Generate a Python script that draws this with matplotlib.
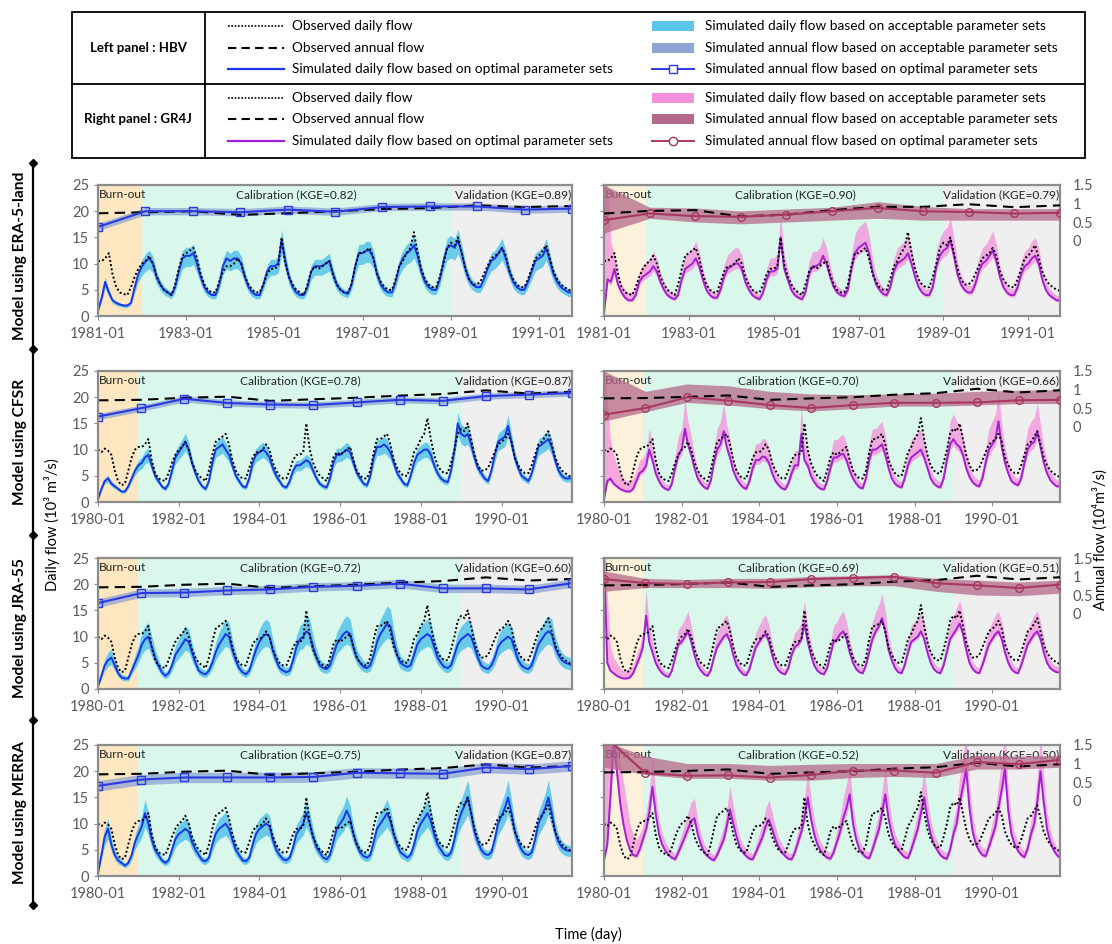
import numpy as np
import pandas as pd
import matplotlib
matplotlib.use('Agg')
import matplotlib.pyplot as plt
import matplotlib.dates as mdates
from matplotlib.patches import Rectangle

plt.rcParams['font.family'] = ['Lato', 'DejaVu Sans']

# ---------------- data (monthly readings) ----------------
# observed daily flow (10^3 m3/s), 1980-01 .. 1991-10
obs_daily_years = [
    [10.0, 9.5, 10.2, 9.8, 9.0, 6.0, 4.0, 3.2, 3.5, 6.0, 8.5, 10.0],
    [10.5, 10.5, 11.0, 12.0, 8.0, 5.5, 4.5, 4.2, 4.0, 5.5, 7.5, 9.0],
    [10.0, 10.5, 11.5, 10.0, 7.5, 6.0, 5.0, 4.5, 4.0, 6.0, 9.0, 11.5],
    [12.0, 12.5, 13.0, 11.0, 8.0, 6.0, 5.0, 4.5, 4.5, 6.5, 8.5, 9.5],
    [9.5, 10.0, 11.0, 10.0, 7.5, 6.0, 5.0, 4.5, 4.5, 6.0, 8.0, 9.0],
    [9.0, 9.5, 15.0, 10.0, 7.5, 6.0, 5.0, 4.5, 4.0, 6.0, 8.5, 9.5],
    [9.0, 9.5, 10.0, 10.5, 8.0, 6.0, 5.0, 4.5, 4.5, 6.0, 9.5, 12.0],
    [12.0, 12.5, 13.0, 11.0, 8.0, 6.5, 5.5, 5.0, 5.0, 7.0, 9.5, 10.5],
    [12.0, 13.0, 16.0, 12.0, 9.0, 7.0, 6.0, 5.5, 5.5, 7.5, 10.0, 13.0],
    [14.0, 13.5, 15.0, 12.0, 9.0, 7.0, 6.0, 6.0, 6.5, 8.0, 9.5, 11.0],
    [11.5, 12.0, 13.0, 11.5, 8.5, 7.0, 6.0, 5.5, 5.5, 7.0, 9.0, 11.0],
    [11.5, 12.5, 13.5, 11.0, 8.5, 7.0, 6.0, 5.5, 5.0, 4.8],
]

# observed annual flow
obs_annual_left_80 = [19.4, 19.5, 19.9, 20.1, 19.3, 19.6, 19.9, 20.3, 20.6, 21.3, 20.7, 21.0]
obs_annual_left_81 = [19.6, 19.8, 20.0, 19.3, 19.6, 20.0, 20.4, 20.6, 21.1, 20.8, 21.0]
obs_annual_right_80 = [0.76, 0.77, 0.80, 0.84, 0.72, 0.76, 0.79, 0.86, 0.90, 1.02, 0.92, 0.98]
obs_annual_right_81 = [0.73, 0.80, 0.82, 0.65, 0.70, 0.82, 0.91, 0.91, 0.98, 0.90, 0.95]

# HBV simulated daily flow (optimal parameter set)
hbv_era5_years = [
    [1.0, 3.5, 6.5, 4.5, 3.0, 2.5, 2.2, 2.0, 2.0, 2.5, 5.5, 8.0],
    [9.5, 10.5, 11.0, 10.0, 7.5, 6.0, 5.0, 4.5, 4.0, 5.5, 8.5, 11.0],
    [11.5, 11.5, 12.0, 10.0, 7.5, 5.5, 4.5, 4.0, 4.0, 6.0, 9.5, 11.0],
    [10.5, 11.0, 11.0, 10.0, 7.5, 5.5, 4.5, 4.0, 4.0, 6.0, 8.5, 9.5],
    [9.5, 10.0, 14.5, 10.5, 7.5, 5.5, 4.5, 4.0, 4.0, 5.5, 8.5, 9.5],
    [9.5, 9.5, 10.0, 10.5, 8.0, 6.0, 5.0, 4.5, 4.2, 6.0, 9.5, 12.0],
    [12.0, 12.5, 12.5, 11.0, 8.0, 6.0, 5.0, 4.5, 4.5, 6.5, 9.5, 11.0],
    [12.0, 12.5, 13.5, 11.5, 8.5, 6.5, 5.5, 5.0, 5.0, 7.0, 10.5, 13.0],
    [13.5, 13.0, 14.5, 12.0, 9.0, 7.0, 6.0, 5.5, 5.5, 7.0, 9.0, 10.5],
    [11.0, 12.0, 13.0, 11.0, 8.5, 6.5, 5.5, 5.0, 5.0, 6.5, 8.5, 10.5],
    [11.0, 11.5, 13.0, 10.5, 8.0, 6.5, 5.5, 5.0, 4.5, 4.5],
]
hbv_cfsr_years = [
    [0.5, 2.5, 4.0, 4.5, 3.5, 3.0, 2.5, 2.0, 2.0, 3.0, 4.5, 6.0],
    [7.0, 7.5, 8.5, 9.0, 7.0, 5.0, 4.0, 3.0, 2.5, 3.5, 6.0, 8.5],
    [9.5, 10.5, 11.5, 10.0, 7.5, 5.5, 4.0, 3.0, 2.5, 4.0, 7.5, 10.0],
    [10.5, 11.0, 10.0, 9.0, 7.0, 5.0, 4.0, 3.0, 2.8, 4.5, 7.5, 9.0],
    [9.5, 10.0, 9.5, 8.5, 6.5, 5.0, 4.0, 3.0, 2.8, 4.0, 6.0, 7.0],
    [7.0, 7.5, 8.0, 7.5, 6.0, 4.5, 3.5, 3.0, 2.8, 4.5, 7.5, 9.0],
    [9.0, 9.5, 10.0, 9.5, 7.5, 5.5, 4.5, 3.5, 3.2, 5.0, 8.5, 10.5],
    [10.5, 11.0, 10.5, 9.5, 7.5, 5.5, 4.5, 3.5, 3.2, 5.0, 7.5, 9.0],
    [9.5, 10.0, 10.0, 9.0, 7.0, 5.5, 4.5, 4.0, 3.8, 6.0, 10.0, 15.0],
    [13.0, 12.5, 13.0, 11.0, 8.5, 6.5, 5.5, 4.5, 4.0, 6.0, 9.0, 11.5],
    [12.0, 12.5, 14.5, 11.5, 8.5, 6.5, 5.0, 4.5, 4.0, 5.5, 8.0, 10.5],
    [11.0, 11.5, 12.0, 10.5, 8.0, 6.0, 5.0, 4.5, 4.5, 4.5],
]
hbv_jra_years = [
    [0.5, 2.5, 4.5, 5.5, 6.0, 4.5, 3.0, 2.2, 2.0, 2.0, 3.5, 5.0],
    [6.5, 8.5, 9.5, 10.0, 8.0, 6.0, 4.5, 3.2, 2.5, 3.0, 4.5, 6.5],
    [7.5, 8.5, 9.5, 9.0, 7.0, 5.0, 3.5, 3.0, 2.8, 3.5, 5.0, 7.0],
    [8.5, 9.5, 10.5, 10.0, 7.5, 5.5, 4.0, 3.2, 2.8, 3.5, 5.5, 7.5],
    [9.0, 10.0, 10.5, 10.0, 7.5, 5.5, 4.0, 3.5, 3.2, 3.5, 5.5, 8.0],
    [9.5, 10.0, 11.0, 10.5, 8.0, 6.0, 4.5, 4.0, 3.8, 4.5, 6.5, 8.5],
    [9.5, 10.5, 11.0, 10.5, 8.0, 6.0, 5.0, 4.2, 4.0, 4.5, 6.5, 9.0],
    [10.5, 11.5, 12.5, 12.0, 9.0, 6.5, 5.0, 4.5, 4.2, 4.5, 6.5, 8.5],
    [9.5, 10.0, 10.5, 10.0, 8.0, 6.0, 5.0, 4.2, 4.0, 4.5, 6.5, 8.5],
    [9.5, 10.0, 10.5, 10.0, 8.0, 6.0, 4.5, 4.0, 3.8, 4.5, 6.0, 8.0],
    [9.0, 9.5, 10.0, 9.5, 7.5, 5.5, 4.5, 4.0, 3.8, 4.5, 6.5, 8.5],
    [9.5, 10.5, 11.0, 10.5, 8.0, 6.5, 5.5, 5.0, 4.8, 4.5],
]
hbv_merra_years = [
    [0.5, 4.0, 7.5, 9.0, 6.0, 4.0, 3.0, 2.5, 2.0, 2.5, 4.0, 6.5],
    [8.0, 9.5, 12.0, 10.0, 7.0, 5.0, 4.0, 3.0, 2.5, 3.0, 5.0, 7.0],
    [8.0, 8.5, 9.0, 8.5, 6.5, 5.0, 4.0, 3.0, 2.8, 3.5, 6.0, 8.0],
    [9.0, 9.5, 10.0, 9.0, 7.0, 5.0, 4.0, 3.0, 2.8, 3.5, 6.0, 8.0],
    [9.0, 9.5, 10.0, 9.5, 7.0, 5.0, 4.0, 3.2, 3.0, 3.5, 5.5, 8.0],
    [9.0, 10.0, 12.0, 10.0, 7.5, 5.5, 4.5, 3.5, 3.2, 4.0, 6.5, 9.0],
    [10.0, 11.0, 12.5, 11.0, 8.0, 6.0, 4.5, 3.8, 3.5, 4.0, 6.5, 9.0],
    [10.0, 11.0, 12.0, 10.5, 8.0, 6.0, 4.5, 4.0, 3.5, 4.0, 6.0, 8.5],
    [10.0, 11.0, 12.0, 10.5, 8.0, 6.0, 5.0, 4.0, 3.8, 4.5, 7.0, 10.0],
    [12.0, 13.5, 15.0, 12.0, 8.5, 6.5, 5.0, 4.2, 4.0, 4.5, 7.0, 10.0],
    [11.5, 13.0, 15.0, 12.0, 8.5, 6.5, 5.0, 4.2, 4.0, 4.5, 7.0, 10.0],
    [11.5, 13.0, 15.0, 12.0, 8.5, 6.5, 5.5, 5.0, 4.8, 4.8],
]

# GR4J simulated daily flow (optimal parameter set)
gr4j_era5_years = [
    [0.5, 7.0, 6.5, 9.0, 6.0, 4.5, 3.5, 3.0, 3.0, 4.0, 6.5, 7.5],
    [8.0, 8.5, 9.5, 8.5, 6.5, 5.0, 4.0, 3.5, 3.2, 4.0, 7.0, 9.0],
    [9.5, 10.0, 11.0, 9.5, 7.0, 5.0, 4.0, 3.5, 3.5, 5.0, 7.5, 9.0],
    [9.5, 10.0, 10.0, 9.0, 6.5, 5.0, 4.0, 3.5, 3.2, 4.5, 7.0, 8.5],
    [8.5, 9.0, 15.0, 9.0, 7.0, 5.0, 4.0, 3.5, 3.2, 4.5, 8.0, 9.5],
    [9.5, 10.0, 11.5, 10.0, 7.5, 5.5, 4.5, 4.0, 3.8, 5.0, 9.0, 12.0],
    [13.0, 13.5, 14.0, 12.0, 8.5, 6.0, 5.0, 4.2, 4.0, 5.5, 8.5, 10.0],
    [10.5, 11.0, 12.0, 10.0, 7.5, 5.5, 4.5, 4.0, 4.0, 5.5, 9.5, 11.5],
    [12.5, 13.0, 14.5, 11.5, 8.0, 6.0, 5.0, 4.5, 4.5, 6.0, 8.5, 10.0],
    [10.5, 11.5, 12.5, 10.5, 7.5, 5.5, 4.5, 4.0, 4.0, 5.5, 8.0, 9.5],
    [10.0, 11.0, 11.5, 10.0, 7.0, 5.0, 4.0, 3.5, 3.0, 3.0],
]
gr4j_cfsr_years = [
    [0.5, 4.0, 4.5, 3.5, 3.0, 2.5, 2.2, 2.0, 2.0, 2.5, 4.0, 5.5],
    [6.0, 7.0, 10.0, 8.0, 5.5, 4.0, 3.0, 2.5, 2.3, 3.5, 6.5, 9.0],
    [10.0, 14.0, 11.0, 9.0, 6.5, 4.5, 3.5, 2.8, 2.5, 4.0, 7.5, 10.0],
    [11.0, 13.5, 10.5, 8.5, 6.0, 4.5, 3.5, 2.8, 2.5, 4.0, 6.5, 8.0],
    [8.0, 8.7, 8.5, 7.5, 5.5, 4.0, 3.2, 2.6, 2.4, 3.5, 5.5, 7.0],
    [7.0, 13.0, 8.0, 7.0, 5.0, 3.8, 3.0, 2.5, 2.4, 4.0, 6.5, 8.5],
    [8.5, 9.0, 9.2, 8.0, 6.0, 4.5, 3.5, 2.8, 2.6, 4.5, 8.0, 10.0],
    [10.0, 10.5, 11.0, 9.0, 6.5, 4.5, 3.5, 3.0, 2.8, 4.5, 7.0, 8.5],
    [9.0, 9.5, 10.0, 8.5, 6.5, 4.5, 3.5, 3.0, 2.8, 4.5, 8.0, 11.0],
    [12.0, 11.0, 10.5, 9.0, 6.5, 4.8, 3.8, 3.2, 3.0, 4.5, 7.5, 10.0],
    [11.0, 12.0, 15.4, 10.5, 7.5, 5.5, 4.0, 3.5, 3.2, 4.5, 7.5, 10.0],
    [11.0, 11.5, 13.5, 10.5, 7.5, 5.5, 4.2, 3.5, 3.0, 3.0],
]
gr4j_jra_years = [
    [25.0, 5.0, 3.5, 3.0, 2.5, 2.2, 2.0, 2.0, 2.2, 3.0, 4.5, 6.0],
    [8.0, 14.0, 9.0, 7.0, 5.0, 3.8, 3.0, 2.5, 2.3, 3.5, 6.0, 8.5],
    [9.0, 10.0, 11.0, 9.0, 6.5, 4.5, 3.5, 2.8, 2.5, 3.5, 6.0, 8.0],
    [9.0, 10.0, 10.5, 9.0, 6.5, 4.5, 3.5, 2.8, 2.6, 3.8, 6.0, 8.0],
    [9.0, 10.0, 10.5, 9.0, 6.5, 4.5, 3.5, 3.0, 2.8, 4.0, 6.5, 8.0],
    [8.5, 9.5, 12.5, 9.0, 6.5, 4.5, 3.5, 3.0, 2.8, 4.0, 6.5, 9.0],
    [9.5, 10.5, 11.0, 9.5, 7.0, 5.0, 3.8, 3.2, 3.0, 4.5, 7.0, 9.5],
    [11.0, 12.0, 13.5, 11.0, 7.5, 5.5, 4.0, 3.2, 3.0, 4.5, 7.0, 9.0],
    [9.5, 10.0, 11.0, 9.5, 7.0, 5.0, 3.8, 3.2, 3.0, 4.5, 7.0, 9.5],
    [10.5, 11.5, 12.5, 10.5, 7.5, 5.0, 3.8, 3.2, 3.0, 4.5, 6.5, 8.5],
    [9.5, 10.5, 11.0, 9.5, 7.0, 5.0, 3.8, 3.2, 3.0, 4.5, 6.5, 8.5],
    [9.5, 10.5, 11.0, 9.5, 7.0, 5.0, 4.0, 3.5, 3.2, 3.2],
]
gr4j_merra_years = [
    [3.0, 6.0, 15.0, 26.0, 20.0, 14.0, 10.0, 7.0, 5.0, 4.0, 3.8, 5.0],
    [7.0, 9.0, 12.0, 17.0, 12.0, 8.0, 6.0, 4.8, 4.0, 3.5, 3.2, 4.5],
    [6.0, 7.5, 9.0, 10.5, 11.0, 8.0, 6.0, 4.5, 3.8, 3.3, 3.0, 4.0],
    [5.5, 7.0, 9.5, 12.7, 10.0, 7.5, 5.5, 4.5, 3.8, 3.3, 3.2, 4.5],
    [6.0, 7.5, 9.5, 10.8, 9.0, 7.0, 5.5, 4.5, 3.8, 3.3, 3.2, 4.5],
    [6.5, 8.5, 11.0, 15.0, 11.0, 8.0, 6.0, 4.8, 4.0, 3.5, 3.3, 4.5],
    [6.5, 8.5, 11.0, 13.0, 15.6, 10.0, 7.0, 5.0, 4.2, 3.6, 3.4, 5.0],
    [7.0, 9.0, 12.0, 15.6, 11.0, 8.0, 6.0, 5.0, 4.2, 3.6, 3.4, 5.0],
    [7.0, 9.0, 12.0, 15.0, 11.0, 8.0, 6.0, 5.0, 4.0, 3.5, 3.3, 5.0],
    [8.0, 10.0, 14.0, 17.0, 20.5, 13.0, 8.5, 6.0, 4.8, 4.0, 3.8, 5.5],
    [7.5, 9.5, 13.0, 16.5, 20.5, 12.5, 8.0, 6.0, 4.8, 4.0, 3.6, 5.2],
    [8.0, 10.0, 14.0, 20.0, 14.0, 9.0, 6.5, 5.0, 4.0, 3.5],
]

# upper edge of acceptable band during burn-out year (GR4J)
gr4j_burn_hi = {
    'era5': [25, 25, 14, 11, 8, 6, 5, 4.5, 4.5, 5.5, 8, 9.5],
    'cfsr': [25, 20, 12, 9, 7, 5.5, 4.5, 4, 4, 4.5, 6, 8],
    'jra': [25, 18, 8, 6, 5, 4, 3.5, 3.5, 3.8, 4.5, 6.5, 8],
    'merra': [25, 25, 25, 27, 25, 22, 18, 14, 10, 8, 7, 8],
}
# relative spread of acceptable daily band (lower, upper)
hbv_spread = {'era5': (0.18, 0.14), 'cfsr': (0.15, 0.14), 'jra': (0.22, 0.27), 'merra': (0.22, 0.22)}
gr4j_spread = {'era5': (0.1, 0.3), 'cfsr': (0.1, 0.4), 'jra': (0.05, 0.35), 'merra': (0.1, 0.35)}

# simulated annual flow, optimal set
hbv_annual = {
    'era5': [17.0, 20.0, 20.0, 19.8, 20.3, 19.9, 20.8, 20.9, 20.9, 20.3, 20.5],
    'cfsr': [16.3, 17.9, 19.7, 18.9, 18.6, 18.5, 19.0, 19.5, 19.3, 20.2, 20.5, 20.8],
    'jra': [16.4, 18.3, 18.4, 18.8, 19.0, 19.5, 19.7, 20.1, 19.2, 19.2, 19.0, 20.2],
    'merra': [17.2, 18.4, 18.8, 18.8, 18.8, 18.9, 19.7, 19.6, 19.5, 20.7, 20.4, 21.0],
}
hbv_annual_halfwidth = {'era5': 0.7, 'cfsr': 0.6, 'jra': 0.8, 'merra': 1.0}

gr4j_annual = {
    'era5': [0.55, 0.73, 0.66, 0.64, 0.70, 0.79, 0.88, 0.79, 0.77, 0.73, 0.75],
    'cfsr': [0.32, 0.50, 0.79, 0.70, 0.58, 0.50, 0.58, 0.64, 0.64, 0.65, 0.71, 0.72],
    'jra': [0.93, 0.82, 0.80, 0.84, 0.85, 0.93, 0.96, 0.99, 0.82, 0.76, 0.69, 0.78],
    'merra': [1.75, 0.74, 0.67, 0.68, 0.62, 0.69, 0.81, 0.81, 0.75, 1.04, 0.98, 1.10],
}
gr4j_annual_hi = {
    'era5': [1.5, 0.90, 0.88, 0.80, 0.85, 0.90, 1.05, 0.92, 0.86, 0.86, 0.86],
    'cfsr': [1.5, 0.95, 1.15, 1.10, 0.95, 0.88, 0.86, 0.88, 0.90, 0.95, 0.98, 1.00],
    'jra': [1.15, 0.95, 0.92, 0.95, 0.95, 1.0, 1.02, 1.05, 0.95, 0.90, 0.85, 0.90],
    'merra': [1.6, 1.2, 1.0, 1.0, 0.95, 0.98, 1.0, 1.0, 1.0, 1.22, 1.2, 1.22],
}
gr4j_annual_lo = {
    'era5': [0.2, 0.60, 0.50, 0.45, 0.50, 0.55, 0.60, 0.55, 0.55, 0.55, 0.55],
    'cfsr': [0.15, 0.40, 0.65, 0.58, 0.48, 0.42, 0.48, 0.55, 0.55, 0.58, 0.62, 0.62],
    'jra': [0.6, 0.70, 0.70, 0.70, 0.68, 0.72, 0.75, 0.75, 0.60, 0.50, 0.48, 0.55],
    'merra': [0.9, 0.7, 0.6, 0.6, 0.55, 0.55, 0.62, 0.65, 0.62, 0.85, 0.85, 0.9],
}

models = ['era5', 'cfsr', 'jra', 'merra']
model_names = ['Model using ERA-5-land', 'Model using CFSR', 'Model using JRA-55', 'Model using MERRA']
start_dates = {'era5': '1981-01-01', 'cfsr': '1980-01-01', 'jra': '1980-01-01', 'merra': '1980-01-01'}
kge_hbv = {'era5': (0.82, 0.89), 'cfsr': (0.78, 0.87), 'jra': (0.72, 0.60), 'merra': (0.75, 0.87)}
kge_gr4j = {'era5': (0.90, 0.79), 'cfsr': (0.70, 0.66), 'jra': (0.69, 0.51), 'merra': (0.52, 0.50)}
hbv_sims = {'era5': hbv_era5_years, 'cfsr': hbv_cfsr_years, 'jra': hbv_jra_years, 'merra': hbv_merra_years}
gr4j_sims = {'era5': gr4j_era5_years, 'cfsr': gr4j_cfsr_years, 'jra': gr4j_jra_years, 'merra': gr4j_merra_years}

end_date = pd.Timestamp('1991-10-01')
valid_start = pd.Timestamp('1989-01-01')

# ---------------- styles ----------------
C_BURN = '#fde6c0'
C_BURN_R = '#fdf1dc'
C_CAL = '#d9f8eb'
C_VAL = '#efefef'
C_HBV_BAND = '#5cc6ea'
C_HBV_LINE = '#1a36e8'
C_HBV_ABAND = '#8ea4d4'
C_HBV_ALINE = '#2a3ae0'
C_GR_BAND = '#f490dc'
C_GR_LINE = '#a21fd2'
C_GR_ABAND = '#b5698a'
C_GR_ALINE = '#a8385f'
C_TICK = '#5a5a5a'
C_SPINE = '#8c8c8c'

W, H = 1112, 944
fig = plt.figure(figsize=(W / 100, H / 100), dpi=100)

over = fig.add_axes([0, 0, 1, 1])
over.set_xlim(0, W)
over.set_ylim(H, 0)
over.axis('off')


def flat(years):
    out = []
    for y in years:
        out += y
    return np.array(out, dtype=float)


obs_all = flat(obs_daily_years)
lefts = [98, 604]
widths = [474, 456]
tops = [185, 371, 558, 745]
ph = 131


def draw_panel(ax, m, side):
    start = pd.Timestamp(start_dates[m])
    sims = hbv_sims if side == 0 else gr4j_sims
    sim = flat(sims[m])
    t = pd.date_range(start, periods=len(sim), freq='MS')
    off = (start.year - 1980) * 12
    obs = obs_all[off:off + len(sim)]
    burn_end = start + pd.DateOffset(years=1)

    ax.axvspan(start, burn_end, color=C_BURN if side == 0 else C_BURN_R, lw=0, zorder=0)
    ax.axvspan(burn_end, valid_start, color=C_CAL, lw=0, zorder=0)
    ax.axvspan(valid_start, end_date, color=C_VAL, lw=0, zorder=0)

    if side == 0:
        lo_f, hi_f = hbv_spread[m]
        lo, hi = sim * (1 - lo_f), sim * (1 + hi_f)
        ax.fill_between(t, lo, hi, color=C_HBV_BAND, lw=0, alpha=0.9, zorder=1)
        ax.plot(t, sim, color=C_HBV_LINE, lw=1.4, zorder=2)
    else:
        lo_f, hi_f = gr4j_spread[m]
        lo, hi = sim * (1 - lo_f), sim * (1 + hi_f)
        hi[:12] = np.maximum(hi[:12], gr4j_burn_hi[m])
        ax.fill_between(t, lo, hi, color=C_GR_BAND, lw=0, alpha=0.75, zorder=1)
        ax.plot(t, sim, color=C_GR_LINE, lw=1.4, zorder=2)
    ax.plot(t, obs, color='black', ls=(0, (1, 1.2)), lw=1.4, zorder=3)

    t0 = mdates.date2num(start)
    t1 = mdates.date2num(end_date)
    ax.set_xlim(t0, t1)
    ax.set_ylim(0, 25)

    if side == 0:
        ann = np.array(hbv_annual[m])
        xa = np.linspace(t0, t1, len(ann))
        hw = hbv_annual_halfwidth[m]
        obs_ann = obs_annual_left_81 if m == 'era5' else obs_annual_left_80
        ax.fill_between(xa, ann - hw, ann + hw, color=C_HBV_ABAND, alpha=0.75, lw=0, zorder=4)
        ax.plot(xa, obs_ann, color='black', ls=(0, (5, 3)), lw=1.5, zorder=5)
        ax.plot(xa, ann, color=C_HBV_ALINE, lw=1.5, marker='s', ms=5.5, mfc='none',
                mec=C_HBV_ALINE, mew=1.0, zorder=6)
    else:
        ax2 = ax.twinx()
        ann = np.array(gr4j_annual[m])
        xa = np.linspace(t0, t1, len(ann))
        obs_ann = obs_annual_right_81 if m == 'era5' else obs_annual_right_80
        ax2.fill_between(xa, gr4j_annual_lo[m], gr4j_annual_hi[m], color=C_GR_ABAND,
                         alpha=0.75, lw=0, zorder=4)
        ax2.plot(xa, obs_ann, color='black', ls=(0, (5, 3)), lw=1.5, zorder=5)
        ax2.plot(xa, ann, color=C_GR_ALINE, lw=1.5, marker='o', ms=5.5, mfc='none',
                 mec=C_GR_ALINE, mew=1.0, zorder=6)
        ax2.set_ylim(-2.04, 1.5)
        ax2.set_xlim(t0, t1)
        ax2.set_yticks([0, 0.5, 1, 1.5])
        ax2.set_yticklabels(['0', '0.5', '1', '1.5'])
        ax2.tick_params(axis='y', length=0, labelsize=10.5, labelcolor=C_TICK, pad=9)
        for s in ax2.spines.values():
            s.set_visible(False)

    # period labels
    lab = dict(fontsize=8.6, va='center', zorder=8, color='#222')
    ax.text(t0 + 6, 23.2, 'Burn-out', ha='left', **lab)
    kc, kv = (kge_hbv if side == 0 else kge_gr4j)[m]
    cx = (mdates.date2num(burn_end) + mdates.date2num(valid_start)) / 2
    ax.text(cx, 23.2, f'Calibration (KGE={kc:.2f})', ha='center', **lab)
    ax.text(t1 - 6, 23.2, f'Validation (KGE={kv:.2f})', ha='right', **lab)

    years = range(start.year, 1992, 2)
    ax.set_xticks([pd.Timestamp(f'{y}-01-01') for y in years])
    ax.xaxis.set_major_formatter(mdates.DateFormatter('%Y-%m'))
    ax.set_yticks([0, 5, 10, 15, 20, 25])
    ax.tick_params(axis='both', length=3, color=C_SPINE, labelsize=10.5, labelcolor=C_TICK)
    ax.tick_params(axis='x', pad=5)
    if side == 1:
        ax.set_yticklabels([])
    for s in ax.spines.values():
        s.set_color(C_SPINE)
        s.set_linewidth(1.6)
        s.set_zorder(10)


for r, m in enumerate(models):
    for side in (0, 1):
        ax = fig.add_axes([lefts[side] / W, 1 - (tops[r] + ph) / H, widths[side] / W, ph / H])
        draw_panel(ax, m, side)

# ---------------- legend box ----------------
over.add_patch(Rectangle((72, 12), 1013, 146, fill=False, ec='black', lw=1.3))
over.plot([72, 1085], [84, 84], color='black', lw=1.3)
over.plot([205, 205], [12, 158], color='black', lw=1.3)
over.text(138, 48, 'Left panel : HBV', fontsize=9.5, fontweight='bold', ha='center', va='center')
over.text(138, 119, 'Right panel : GR4J', fontsize=9.5, fontweight='bold', ha='center', va='center')

leg_rows = [
    (26, 48, 69, C_HBV_LINE, C_HBV_BAND, C_HBV_ABAND, C_HBV_ALINE, 's'),
    (98, 119, 141, C_GR_LINE, C_GR_BAND, C_GR_ABAND, C_GR_ALINE, 'o'),
]
fs = 9.8
for y1, y2, y3, cl, cb, cab, cal, mk in leg_rows:
    over.plot([228, 284], [y1, y1], color='black', ls=(0, (1, 1)), lw=1.2)
    over.text(292, y1, 'Observed daily flow', fontsize=fs, va='center')
    over.plot([228, 284], [y2, y2], color='black', ls=(0, (4, 2.5)), lw=1.5)
    over.text(292, y2, 'Observed annual flow', fontsize=fs, va='center')
    over.plot([228, 284], [y3, y3], color=cl, lw=1.6)
    over.text(292, y3, 'Simulated daily flow based on optimal parameter sets', fontsize=fs, va='center')
    over.add_patch(Rectangle((652, y1 - 5), 42, 10, color=cb, lw=0))
    over.text(705, y1, 'Simulated daily flow based on acceptable parameter sets', fontsize=fs, va='center')
    over.add_patch(Rectangle((652, y2 - 5), 42, 10, color=cab, lw=0))
    over.text(705, y2, 'Simulated annual flow based on acceptable parameter sets', fontsize=fs, va='center')
    over.plot([652, 694], [y3, y3], color=cal, lw=1.4)
    over.plot([673], [y3], marker=mk, ms=6, mfc='white', mec=cal, mew=1.0)
    over.text(705, y3, 'Simulated annual flow based on optimal parameter sets', fontsize=fs, va='center')

# ---------------- row labels & axis titles ----------------
div = [163, 349, 535, 720, 905]
over.plot([33, 33], [div[0], div[-1]], color='black', lw=1.6)
over.plot([33] * len(div), div, ls='none', marker='D', ms=4, color='black')
for r, name in enumerate(model_names):
    over.text(20, (div[r] + div[r + 1]) / 2, name, rotation=90, fontsize=11.2,
              fontweight='bold', ha='center', va='center')

over.text(52, 525, 'Daily flow (10³ m³/s)', rotation=90, fontsize=10.5, ha='center', va='center')
over.text(1100, 540, 'Annual flow (10⁴m³/s)', rotation=90, fontsize=10.5, ha='center', va='center')
over.text(588, 934, 'Time (day)', fontsize=10.5, ha='center', va='center')

fig.savefig('out.png', dpi=100)
